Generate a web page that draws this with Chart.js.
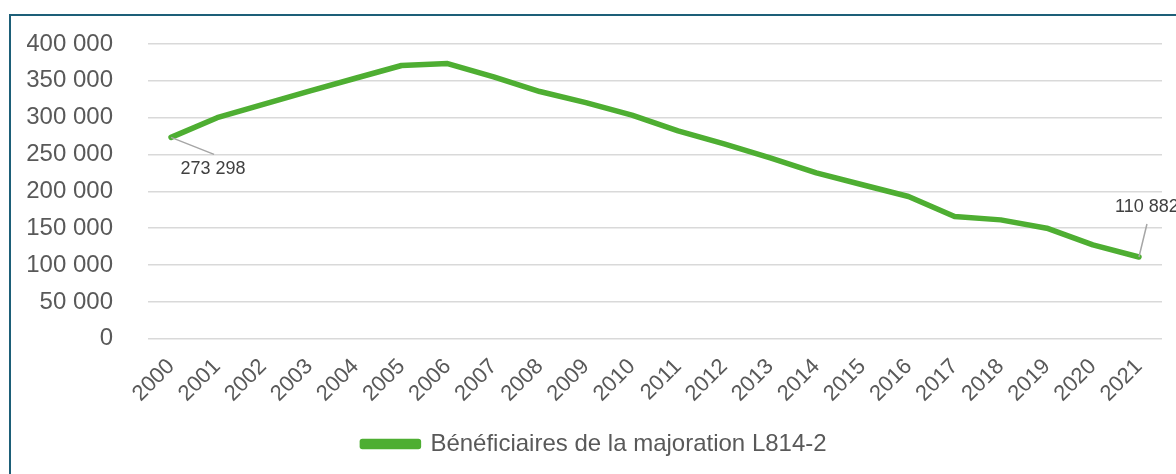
<!DOCTYPE html>
<html lang="fr">
<head>
<meta charset="utf-8">
<title>Bénéficiaires de la majoration L814-2</title>
<script src="https://cdn.jsdelivr.net/npm/chart.js@4.4.1/dist/chart.umd.min.js"></script>
<style>
  html, body { margin: 0; padding: 0; background: #fff; overflow: hidden; }
  #wrap { position: relative; width: 1176px; height: 474px; }
  #cadre {
    position: absolute; left: 9px; top: 14px; width: 1300px; height: 600px;
    border: 2px solid #1d5f78; box-sizing: border-box; pointer-events: none;
  }
</style>
</head>
<body>
<div id="wrap">
  <canvas id="graphique" width="1176" height="474"></canvas>
  <div id="cadre"></div>
</div>
<script>
// Données
const annees = ['2000', '2001', '2002', '2003', '2004', '2005', '2006', '2007', '2008', '2009', '2010',
                '2011', '2012', '2013', '2014', '2015', '2016', '2017', '2018', '2019', '2020', '2021'];
const beneficiaires = [273298, 300000, 318000, 336000, 353500, 370800, 373500, 355500, 335500, 320500, 303500,
                       282000, 264500, 245500, 225000, 209000, 193000, 166000, 161300, 150000, 127300, 110882];
const nomSerie = 'Bénéficiaires de la majoration L814-2';

const vert = '#4eae32';
const gris = '#595959';
const police = "Arial, 'Liberation Sans', sans-serif";

// format "400 000"
function formatNombre(v) {
    return String(v).replace(/\B(?=(\d{3})+(?!\d))/g, ' ');
}

// Étiquettes de la première et dernière valeur avec trait de rappel
const etiquettes = {
    id: 'etiquettes',
    afterDatasetsDraw(chart) {
        const ctx = chart.ctx;
        const pts = chart.getDatasetMeta(0).data;
        const premier = pts[0];
        const dernier = pts[pts.length - 1];
        ctx.save();
        ctx.strokeStyle = '#a6a6a6';
        ctx.lineWidth = 1.5;
        ctx.beginPath();
        ctx.moveTo(premier.x, premier.y);
        ctx.lineTo(premier.x + 43, premier.y + 17);
        ctx.moveTo(dernier.x, dernier.y);
        ctx.lineTo(dernier.x + 8, dernier.y - 33);
        ctx.stroke();

        ctx.fillStyle = '#404040';
        ctx.font = '18px ' + police;
        ctx.textBaseline = 'middle';
        ctx.textAlign = 'center';
        ctx.fillText(formatNombre(beneficiaires[0]), premier.x + 42, premier.y + 32);
        ctx.textAlign = 'left';
        ctx.fillText(formatNombre(beneficiaires[beneficiaires.length - 1]), dernier.x - 24, dernier.y - 50);
        ctx.restore();
    }
};

const graphique = new Chart(document.getElementById('graphique'), {
    type: 'line',
    data: {
        labels: annees,
        datasets: [{
            label: nomSerie,
            data: beneficiaires,
            borderColor: vert,
            backgroundColor: vert,
            borderWidth: 5.5,
            pointRadius: 0,
            tension: 0,
            borderCapStyle: 'round',
            borderJoinStyle: 'round'
        }]
    },
    options: {
        responsive: false,
        animation: false,
        layout: { padding: { left: 27, right: 14, top: 20, bottom: 8 } },
        plugins: {
            tooltip: { enabled: false },
            legend: {
                position: 'bottom',
                labels: {
                    color: gris,
                    font: { family: police, size: 24 },
                    boxWidth: 56,
                    boxHeight: 5,
                    padding: 18
                }
            }
        },
        scales: {
            x: {
                offset: true,
                grid: { display: false },
                border: { display: false },
                ticks: {
                    color: gris,
                    font: { family: police, size: 22 },
                    minRotation: 45,
                    maxRotation: 45,
                    autoSkip: false,
                    padding: 7
                }
            },
            y: {
                min: 0,
                max: 400000,
                afterFit: (scale) => {
                    scale.width = 121;
                    scale.paddingTop = 44;
                    scale.paddingBottom = 0;
                },
                grid: { color: '#d9d9d9', lineWidth: 1.5, drawTicks: false },
                border: { display: false },
                ticks: {
                    stepSize: 50000,
                    color: gris,
                    font: { family: police, size: 24 },
                    padding: 35,
                    callback: (v) => formatNombre(v)
                }
            }
        }
    },
    plugins: [etiquettes]
});
</script>
</body>
</html>
